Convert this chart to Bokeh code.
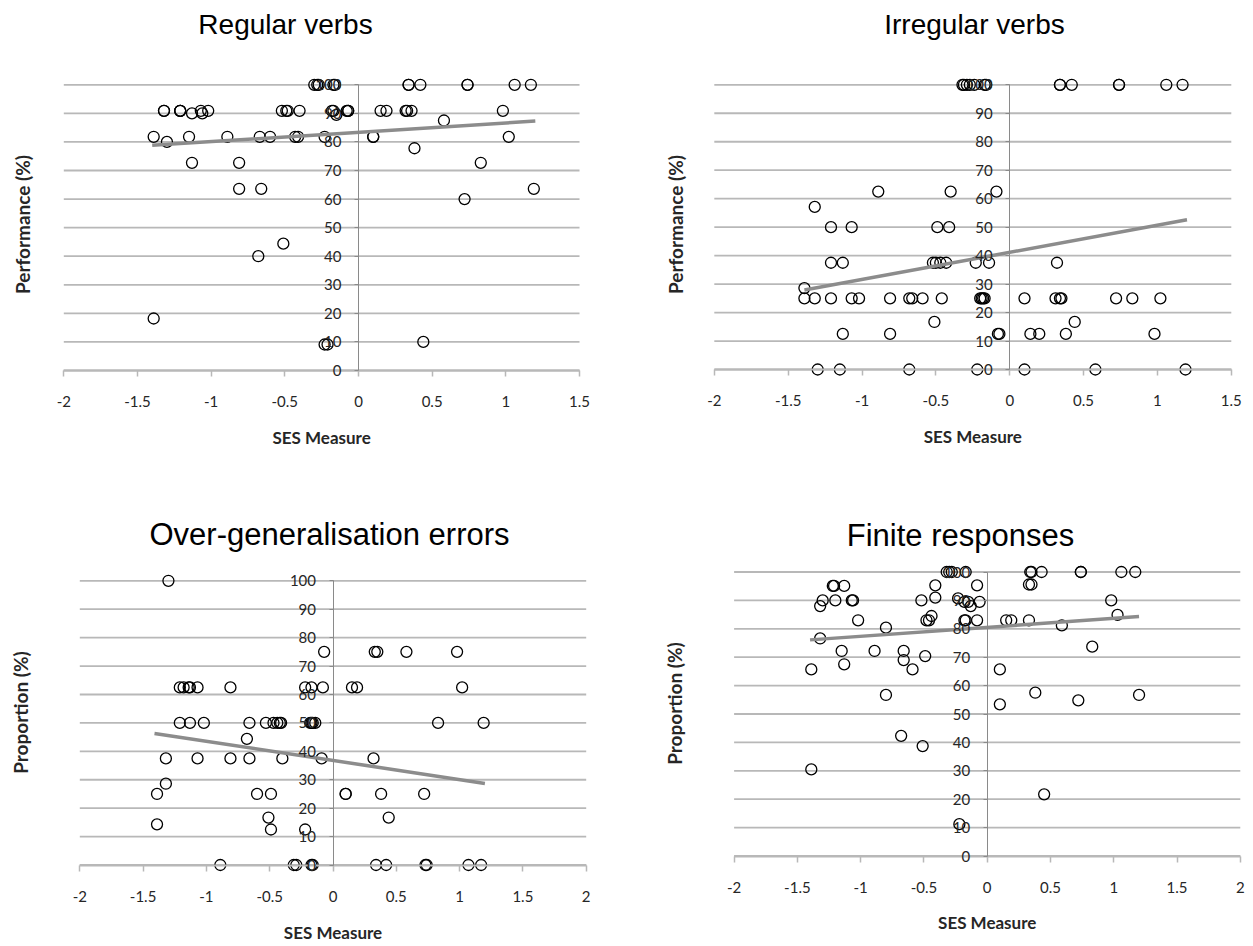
import math
from bokeh.plotting import figure
from bokeh.layouts import column, row
from bokeh.models import Range1d, FixedTicker
from bokeh.core.properties import value
from bokeh.embed import file_html
from bokeh.resources import INLINE

# ---------------- data ----------------
titles = ["Regular verbs", "Irregular verbs", "Over-generalisation errors", "Finite responses"]
y_titles = ["Performance (%)", "Performance (%)", "Proportion (%)", "Proportion (%)"]
x_title = "SES Measure"

y_ticks = [0, 10, 20, 30, 40, 50, 60, 70, 80, 90, 100]
y_tick_labels = ["0", "10", "20", "30", "40", "50", "60", "70", "80", "90", "100"]
x_ticks_top = [-2, -1.5, -1, -0.5, 0, 0.5, 1, 1.5]
x_tick_labels_top = ["-2", "-1.5", "-1", "-0.5", "0", "0.5", "1", "1.5"]
x_ticks_bottom = [-2, -1.5, -1, -0.5, 0, 0.5, 1, 1.5, 2]
x_tick_labels_bottom = ["-2", "-1.5", "-1", "-0.5", "0", "0.5", "1", "1.5", "2"]

# Regular verbs
reg_x = [-0.30, -0.28, -0.27, -0.17, -0.16, 0.34, 0.34, 0.42, 0.74, 0.74, 1.06, 1.17,
         -1.32, -1.32, -1.21, -1.21, -1.21, -1.13, -1.07, -1.06, -1.02, -0.52, -0.49, -0.48,
         -0.40, -0.18, -0.17, -0.15, -0.08, -0.07, -0.07, 0.15, 0.19, 0.32, 0.33, 0.36, 0.98,
         0.58,
         -1.39, -1.15, -0.89, -0.67, -0.60, -0.43, -0.41, -0.23, 0.10, 0.10, 1.02,
         -1.30, 0.38,
         -1.13, -0.81, 0.83,
         -0.81, -0.66, 1.19,
         0.72, -0.51, -0.68, -1.39, -0.23, -0.21, 0.44]
reg_y = [100, 100, 100, 100, 100, 100, 100, 100, 100, 100, 100, 100,
         90.9, 90.9, 90.9, 90.9, 90.9, 90.0, 90.9, 90.0, 90.9, 90.9, 90.9, 90.9,
         90.9, 90.9, 90.9, 89.5, 90.9, 90.9, 90.9, 90.9, 90.9, 90.9, 90.9, 90.9, 90.9,
         87.5,
         81.8, 81.8, 81.8, 81.8, 81.8, 81.8, 81.8, 81.8, 81.8, 81.8, 81.8,
         80.0, 77.8,
         72.7, 72.7, 72.7,
         63.6, 63.6, 63.6,
         60.0, 44.4, 40.0, 18.2, 9.1, 9.1, 10.0]
reg_trend_x = [-1.40, 1.20]
reg_trend_y = [78.8, 87.3]

# Irregular verbs
irr_x = [-0.32, -0.31, -0.29, -0.27, -0.24, -0.17, -0.16, 0.34, 0.34, 0.42, 0.74, 0.74, 1.06, 1.17,
         -0.89, -0.40, -0.09,
         -1.32,
         -1.21, -1.07, -0.49, -0.41,
         -1.21, -1.13, -0.52, -0.50, -0.47, -0.43, -0.23, -0.14, 0.32,
         -1.39,
         -1.39, -1.32, -1.21, -1.07, -1.02, -0.81, -0.68, -0.66, -0.59, -0.46, -0.20, -0.19,
         -0.18, -0.17, 0.10, 0.31, 0.34, 0.35, 0.72, 0.83, 1.02,
         -0.51, 0.44,
         -1.13, -0.81, -0.08, -0.07, 0.14, 0.20, 0.38, 0.98,
         -1.30, -1.15, -0.68, -0.22, 0.10, 0.58, 1.19]
irr_y = [100, 100, 100, 100, 100, 100, 100, 100, 100, 100, 100, 100, 100, 100,
         62.5, 62.5, 62.5,
         57.1,
         50, 50, 50, 50,
         37.5, 37.5, 37.5, 37.5, 37.5, 37.5, 37.5, 37.5, 37.5,
         28.6,
         25, 25, 25, 25, 25, 25, 25, 25, 25, 25, 25, 25,
         25, 25, 25, 25, 25, 25, 25, 25, 25,
         16.7, 16.7,
         12.5, 12.5, 12.5, 12.5, 12.5, 12.5, 12.5, 12.5,
         0, 0, 0, 0, 0, 0, 0]
irr_trend_x = [-1.39, 1.20]
irr_trend_y = [27.9, 52.6]

# Over-generalisation errors
og_x = [-1.30,
        -0.07, 0.33, 0.35, 0.58, 0.98,
        -1.21, -1.18, -1.14, -1.13, -1.07, -0.81, -0.22, -0.17, -0.08, 0.15, 0.19, 1.02,
        -1.21, -1.13, -1.02, -0.66, -0.53, -0.47, -0.44, -0.42, -0.41, -0.18, -0.17, -0.16,
        -0.14, 0.83, 1.19,
        -0.68,
        -1.32, -1.07, -0.81, -0.66, -0.40, -0.09, 0.32,
        -1.32,
        -1.39, -0.60, -0.49, 0.10, 0.10, 0.38, 0.72,
        -0.51, 0.44,
        -1.39, -0.49, -0.22,
        -0.89, -0.31, -0.29, -0.17, -0.16, 0.34, 0.42, 0.73, 0.74, 1.07, 1.17]
og_y = [100,
        75, 75, 75, 75, 75,
        62.5, 62.5, 62.5, 62.5, 62.5, 62.5, 62.5, 62.5, 62.5, 62.5, 62.5, 62.5,
        50, 50, 50, 50, 50, 50, 50, 50, 50, 50, 50, 50,
        50, 50, 50,
        44.4,
        37.5, 37.5, 37.5, 37.5, 37.5, 37.5, 37.5,
        28.6,
        25, 25, 25, 25, 25, 25, 25,
        16.7, 16.7,
        14.3, 12.5, 12.5,
        0, 0, 0, 0, 0, 0, 0, 0, 0, 0, 0]
og_trend_x = [-1.41, 1.20]
og_trend_y = [46.3, 28.7]

# Finite responses
fin_x = [-0.32, -0.30, -0.28, -0.17, 0.34, 0.35, 0.43, 0.74, 0.74, 1.06, 1.17,
         -1.22, -1.21, -1.13, -0.41, -0.08, 0.33, 0.35,
         -0.41, -0.23,
         -1.30, -1.20, -1.07, -1.06, -0.52, -0.18, -0.15, -0.06, 0.98,
         -1.32, -0.13,
         -0.44, 1.03,
         -1.02, -0.48, -0.46, -0.18, -0.17, -0.08, 0.15, 0.19, 0.33,
         -0.80, 0.59, -1.32, 0.83,
         -1.15, -0.89, -0.66,
         -0.66, -0.49, -1.13,
         -1.39, -0.59, 0.10,
         0.38, -0.80, 1.20, 0.72, 0.10, -0.68, -0.51, -1.39, 0.45, -0.22]
fin_y = [100, 100, 100, 100, 100, 100, 100, 100, 100, 100, 100,
         95.1, 95.1, 95.1, 95.3, 95.3, 95.6, 95.6,
         91.0, 90.7,
         90, 90, 90, 90, 90, 89.5, 89.5, 89.5, 90,
         88, 88,
         84.5, 84.9,
         83, 83, 83, 83, 83, 83, 83, 83, 83,
         80.4, 81.2, 76.6, 73.7,
         72.2, 72.2, 72.2,
         69.0, 70.4, 67.5,
         65.7, 65.7, 65.7,
         57.5, 56.7, 56.7, 54.8, 53.4, 42.3, 38.7, 30.5, 21.7, 11.2]
fin_trend_x = [-1.40, 1.20]
fin_trend_y = [76.1, 84.3]

# ---------------- styling ----------------
GRID = "#b8b8b8"
AXIS_V = "#8a8a8a"
TXT = "#262626"
TICK_FONT = "Lato"


def make_panel(title, ytitle, xs, ys, tx, ty, xticks, xlabels, W, H,
               x0px, x1px, y100px, y0px,
               title_pos, title_size, ytitle_pos, xlab_standoff, xtitle_dy):
    """Layout numbers are pixels relative to this figure's top-left corner:
    x0px/x1px = pixel of first/last x tick, y100px/y0px = pixel of y=100 / y=0."""
    x0, x1 = xticks[0], xticks[-1]
    ppx = (x1px - x0px) / (x1 - x0)
    xs0 = x0 - x0px / ppx
    xs1 = x1 + (W - x1px) / ppx
    ppy = (y0px - y100px) / 100.0
    ys0 = -(H - y0px) / ppy
    ys1 = 100 + y100px / ppy

    p = figure(width=W, height=H,
               x_range=Range1d(xs0, xs1), y_range=Range1d(ys0, ys1),
               output_backend="svg", toolbar_location=None,
               min_border_left=0, min_border_right=0,
               min_border_top=0, min_border_bottom=0)
    p.outline_line_color = None
    p.background_fill_color = "white"
    p.border_fill_color = "white"

    # horizontal gridlines only across the plot area (-2 .. last x tick)
    p.xgrid.visible = False
    p.ygrid.visible = False
    n = len(y_ticks)
    p.segment(x0=[x0] * n, y0=y_ticks, x1=[x1] * n, y1=y_ticks,
              line_color=GRID, line_width=1.8)

    # x axis crossing at y = 0
    xa = p.xaxis[0]
    xa.fixed_location = 0
    xa.bounds = (x0, x1)
    xa.ticker = FixedTicker(ticks=xticks)
    xa.major_label_overrides = {t: l for t, l in zip(xticks, xlabels)}
    xa.axis_line_color = GRID
    xa.axis_line_width = 1.8
    xa.major_tick_line_color = GRID
    xa.major_tick_line_width = 1.5
    xa.major_tick_out = 6
    xa.major_tick_in = 0
    xa.minor_tick_line_color = None
    xa.major_label_standoff = xlab_standoff
    xa.major_label_text_font = TICK_FONT
    xa.major_label_text_font_size = "15px"
    xa.major_label_text_color = TXT

    # y axis crossing at x = 0
    ya = p.yaxis[0]
    ya.fixed_location = 0
    ya.bounds = (0, 100)
    ya.ticker = FixedTicker(ticks=y_ticks)
    ya.major_label_overrides = {t: l for t, l in zip(y_ticks, y_tick_labels)}
    ya.axis_line_color = AXIS_V
    ya.axis_line_width = 1
    ya.major_tick_line_color = AXIS_V
    ya.major_tick_out = 4
    ya.major_tick_in = 0
    ya.minor_tick_line_color = None
    ya.major_label_standoff = 13
    ya.major_label_text_font = TICK_FONT
    ya.major_label_text_font_size = "15px"
    ya.major_label_text_color = TXT

    p.scatter(xs, ys, marker="circle", size=11, fill_color=None,
              line_color="black", line_width=1.3)
    p.line(tx, ty, line_color="#8c8c8c", line_width=3.5)

    # chart title
    p.text(x=[xs0], y=[ys1], text=[title], x_offset=title_pos[0], y_offset=title_pos[1],
           text_align="center", text_baseline="middle",
           text_font=value("Liberation Sans"), text_font_size=value(title_size),
           text_color="black")
    # y axis title (rotated)
    p.text(x=[xs0], y=[ys1], text=[ytitle], x_offset=ytitle_pos[0], y_offset=ytitle_pos[1],
           angle=math.pi / 2, text_align="center", text_baseline="middle",
           text_font=value(TICK_FONT), text_font_style="bold",
           text_font_size=value("19px"), text_color=TXT)
    # x axis title
    p.text(x=[(x0 + x1) / 2], y=[0], text=[x_title], y_offset=xtitle_dy,
           text_align="center", text_baseline="middle",
           text_font=value(TICK_FONT), text_font_style="bold",
           text_font_size=value("17px"), text_color=TXT)
    return p


p1 = make_panel(titles[0], y_titles[0], reg_x, reg_y, reg_trend_x, reg_trend_y,
                x_ticks_top, x_tick_labels_top, 626, 473,
                63.3, 579.0, 84.3, 370.0,
                (285, 24), "28px", (22, 224), 19, 67)
p2 = make_panel(titles[1], y_titles[1], irr_x, irr_y, irr_trend_x, irr_trend_y,
                x_ticks_top, x_tick_labels_top, 627, 473,
                87.8, 604.8, 84.3, 369.0,
                (348, 24), "28px", (49, 224), 19, 67)
p3 = make_panel(titles[2], y_titles[2], og_x, og_y, og_trend_x, og_trend_y,
                x_ticks_bottom, x_tick_labels_bottom, 626, 473,
                79.3, 585.7, 107.3, 391.5,
                (329, 61), "31px", (20, 239), 20, 67)
p4 = make_panel(titles[3], y_titles[3], fin_x, fin_y, fin_trend_x, fin_trend_y,
                x_ticks_bottom, x_tick_labels_bottom, 627, 473,
                107.6, 613.8, 98.5, 382.5,
                (334, 62), "31px", (48, 230), 20, 66)

layout = column(row(p1, p2), row(p3, p4))
open("out.html", "w").write(file_html(layout, INLINE))
